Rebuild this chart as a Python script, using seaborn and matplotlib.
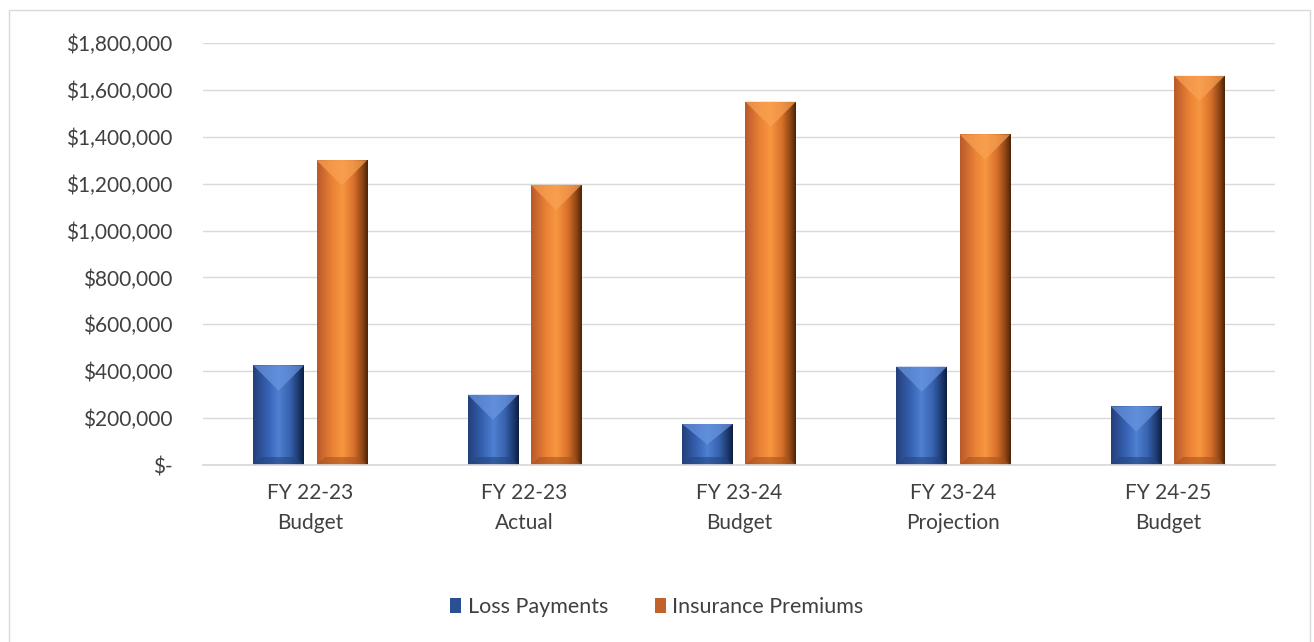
import numpy as np
import pandas as pd
import matplotlib
matplotlib.use("Agg")
import matplotlib.pyplot as plt
import seaborn as sns
from matplotlib.colors import LinearSegmentedColormap
from matplotlib.patches import Polygon, Rectangle
from matplotlib.ticker import FuncFormatter

categories = ["FY 22-23\nBudget", "FY 22-23\nActual", "FY 23-24\nBudget",
              "FY 23-24\nProjection", "FY 24-25\nBudget"]
loss_payments = [425000, 300000, 175000, 420000, 250000]
insurance_premiums = [1300000, 1195000, 1550000, 1410000, 1660000]
series_names = ["Loss Payments", "Insurance Premiums"]
y_ticks = list(range(0, 1800001, 200000))

df = pd.DataFrame({
    "category": categories * 2,
    "series": [series_names[0]] * len(categories) + [series_names[1]] * len(categories),
    "value": loss_payments + insurance_premiums,
})

sns.set_theme(style="white")
plt.rcParams["font.family"] = ["Lato", "DejaVu Sans"]
text_color = "#404040"
fs = 15

fig = plt.figure(figsize=(13.14, 6.42), dpi=100)
ax = fig.add_axes([203 / 1314, 1 - 465 / 642, (1275 - 203) / 1314, (465 - 43) / 642])

base_colors = {"Loss Payments": "#3563B0", "Insurance Premiums": "#E57A30"}
sns.barplot(data=df, x="category", y="value", hue="series", order=categories,
            hue_order=series_names, palette=base_colors, width=0.59, gap=0.2,
            ax=ax, legend=False, linewidth=0, saturation=1)

ax.set_ylim(0, 1800000)
ax.set_xlim(-0.5, len(categories) - 0.5)
ax.set_yticks(y_ticks)
ax.yaxis.set_major_formatter(FuncFormatter(lambda v, _: "$-" if v == 0 else f"${v:,.0f}"))
ax.grid(axis="y", color="#d9d9d9", linewidth=1)
ax.set_axisbelow(True)
for s in ["top", "right", "left"]:
    ax.spines[s].set_visible(False)
ax.spines["bottom"].set_color("#d9d9d9")
ax.tick_params(axis="y", length=0, pad=22, labelsize=fs, labelcolor=text_color)
ax.tick_params(axis="x", length=0, pad=13, labelsize=fs, labelcolor=text_color)
for lbl in ax.get_xticklabels():
    lbl.set_linespacing(1.6)
ax.set_xlabel("")
ax.set_ylabel("")

# Beveled shading for each bar
shades = {
    "Loss Payments": ["#243F7A", "#3763B4", "#4F80D2", "#3863B0", "#1C386E", "#0E1E40"],
    "Insurance Premiums": ["#B8592A", "#EB8236", "#F7963F", "#DA712C", "#8A4414", "#4A2408"],
}
tops = {"Loss Payments": "#6A96E0", "Insurance Premiums": "#F9A253"}
bottoms = {"Loss Payments": "#24457F", "Insurance Premiums": "#A9531E"}

fig.canvas.draw()
to_disp = ax.transData
to_data = ax.transData.inverted()

bars = [p for p in ax.patches if isinstance(p, Rectangle) and p.get_height() > 0]
for i, p in enumerate(bars):
    name = series_names[0] if i < len(categories) else series_names[1]
    x0, y0 = p.get_x(), p.get_y()
    w, h = p.get_width(), p.get_height()
    x1, y1 = x0 + w, y0 + h
    cmap = LinearSegmentedColormap.from_list(
        "bev", list(zip([0, 0.3, 0.5, 0.72, 0.9, 1.0], shades[name])))
    grad = np.linspace(0, 1, 256).reshape(1, -1)
    im = ax.imshow(grad, cmap=cmap, aspect="auto", extent=(x0, x1, y0, y1),
                   zorder=2.1, interpolation="bilinear")
    im.set_clip_path(p)
    p.set_alpha(0)
    # bevel depth equal in pixels to half the bar width
    (dx0, dy0), (dx1, dy1) = to_disp.transform([(x0, y0), (x1, y1)])
    bev_px = min((dx1 - dx0) / 2, (dy1 - dy0) / 2)
    _, yb = to_data.transform((dx0, dy1 - bev_px))
    _, ybot = to_data.transform((dx0, dy0 + 8))
    xc = (x0 + x1) / 2
    ax.add_patch(Polygon([(x0, y1), (x1, y1), (xc, yb)], closed=True,
                         facecolor=tops[name], edgecolor="none", alpha=0.7, zorder=2.2))
    inset = w * 0.17
    ax.add_patch(Polygon([(x0, y0), (x1, y0), (x1 - inset, ybot), (x0 + inset, ybot)],
                         closed=True, facecolor=bottoms[name], edgecolor="none",
                         alpha=0.6, zorder=2.2))

# Legend
handles = [Rectangle((0, 0), 1, 1, facecolor=c, edgecolor="none")
           for c in ["#2A4F94", "#C2612A"]]
fig.legend(handles, series_names, loc="center", bbox_to_anchor=(0.5, 1 - 607 / 642),
           ncol=2, frameon=False, fontsize=15.5, handlelength=0.5, handleheight=0.7,
           handletextpad=0.3, columnspacing=2.2, labelcolor=text_color)

# Chart frame
fig.add_artist(Rectangle((9 / 1314, -0.01), 1301 / 1314, 1 - 10 / 642 + 0.01,
                         transform=fig.transFigure, fill=False,
                         edgecolor="#d9d9d9", linewidth=1))

fig.savefig("out.png", dpi=100, facecolor="white")
